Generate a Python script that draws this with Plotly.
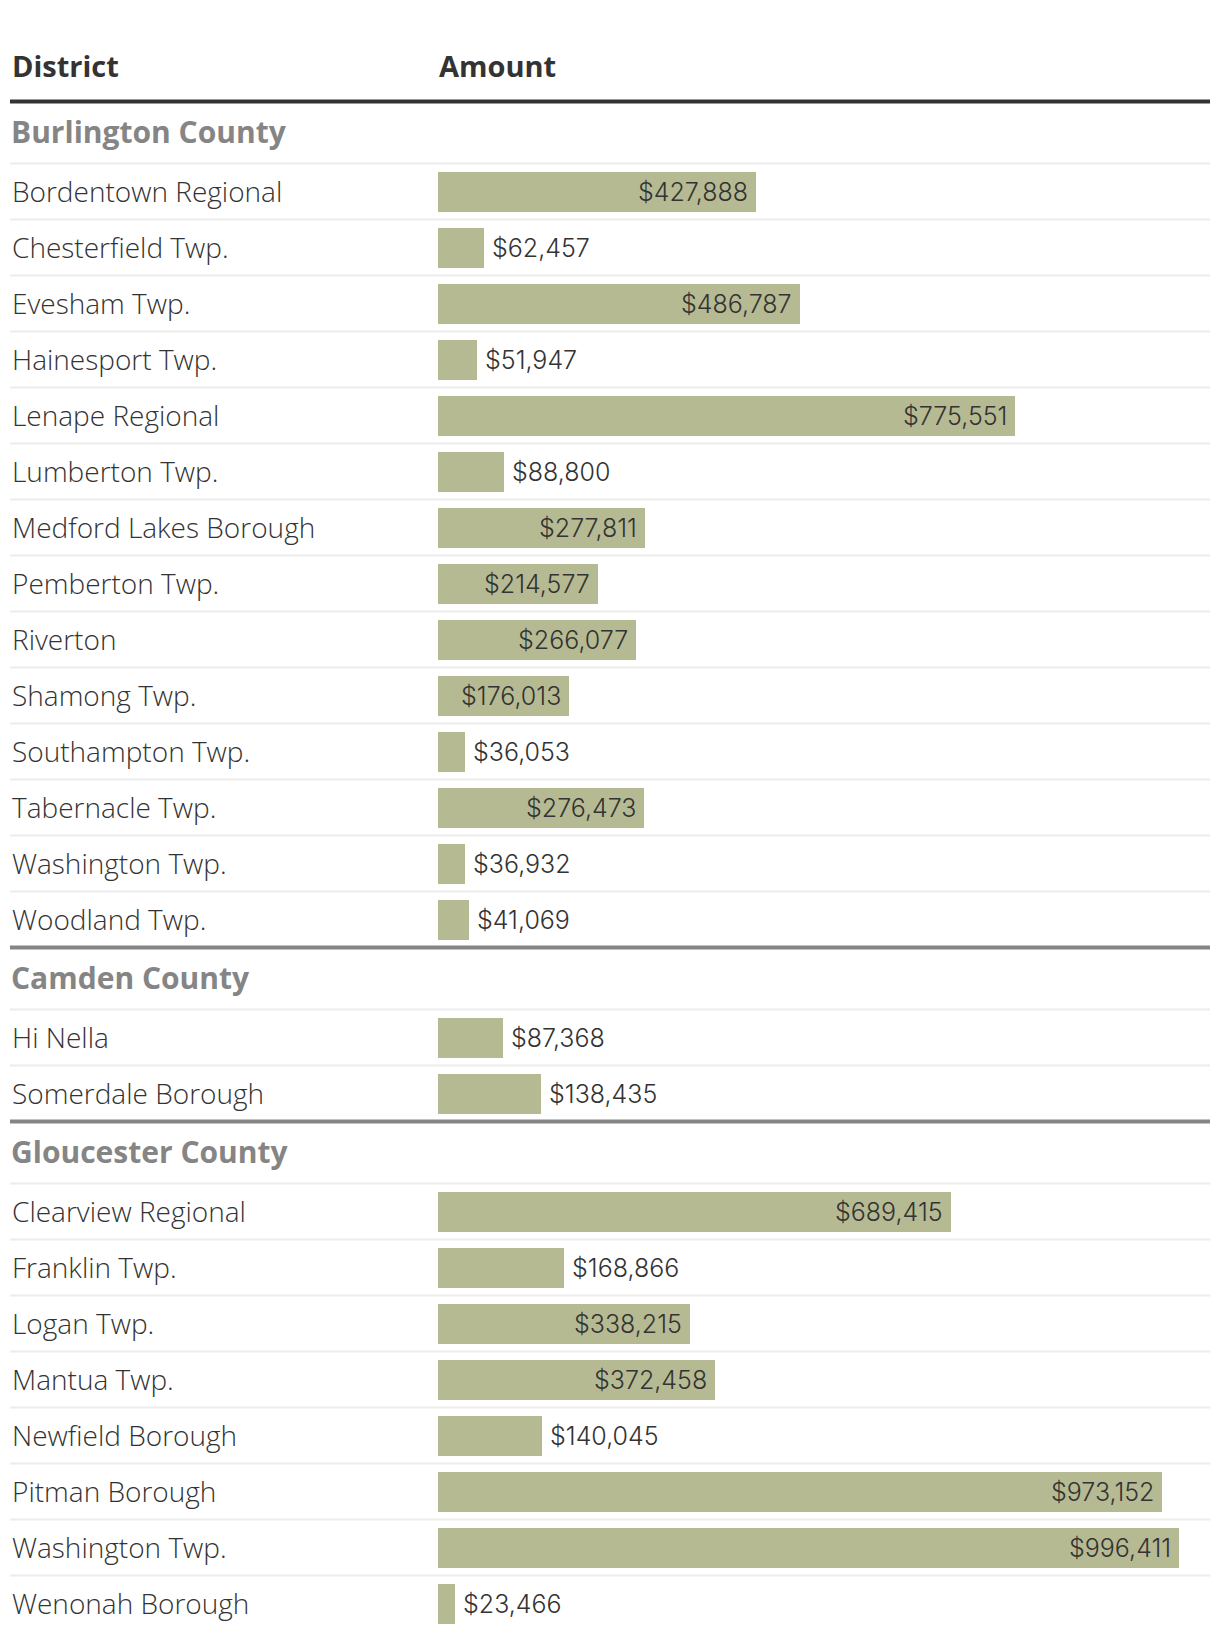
import plotly.graph_objects as go

# ---------------- data ----------------
counties = ["Burlington County", "Camden County", "Gloucester County"]

burlington_districts = [
    "Bordentown Regional", "Chesterfield Twp.", "Evesham Twp.", "Hainesport Twp.",
    "Lenape Regional", "Lumberton Twp.", "Medford Lakes Borough", "Pemberton Twp.",
    "Riverton", "Shamong Twp.", "Southampton Twp.", "Tabernacle Twp.",
    "Washington Twp.", "Woodland Twp.",
]
burlington_amounts = [
    427888, 62457, 486787, 51947, 775551, 88800, 277811, 214577,
    266077, 176013, 36053, 276473, 36932, 41069,
]

camden_districts = ["Hi Nella", "Somerdale Borough"]
camden_amounts = [87368, 138435]

gloucester_districts = [
    "Clearview Regional", "Franklin Twp.", "Logan Twp.", "Mantua Twp.",
    "Newfield Borough", "Pitman Borough", "Washington Twp.", "Wenonah Borough",
]
gloucester_amounts = [689415, 168866, 338215, 372458, 140045, 973152, 996411, 23466]

column_headers = ["District", "Amount"]

# ---------------- layout constants (page pixels) ----------------
PAGE_OFF = 8                      # default body margin of the html page
W, H = 1220 - PAGE_OFF, 1640 - PAGE_OFF
LEFT, RIGHT = 10 - PAGE_OFF, 1210 - PAGE_OFF
BAR_X0 = 438 - PAGE_OFF
X_MAX = 1038000                   # value reaching the right edge of the table
HEADER_Y = 65.5 - PAGE_OFF
HEADER_LINE_Y = 101.5 - PAGE_OFF
GROUP_H = 62
ROW_H = 56
BAR_W = 40
INSIDE_MIN = 170000

BAR_COLOR = "#b5ba92"
TEXT_DARK = "#333333"
COUNTY_GREY = "#858585"
SEP_LIGHT = "#ececec"

NAME_FONT = dict(family="Open Sans", size=28, color=TEXT_DARK, weight=300)
VALUE_FONT = dict(family="Inter", size=25, color=TEXT_DARK, weight=300)
HEAD_FONT = dict(family="Open Sans", size=29, color=TEXT_DARK, weight=700)
COUNTY_FONT = dict(family="Open Sans", size=30, color=COUNTY_GREY, weight=700)

groups = [
    (counties[0], burlington_districts, burlington_amounts),
    (counties[1], camden_districts, camden_amounts),
    (counties[2], gloucester_districts, gloucester_amounts),
]

px = lambda v: v / W

shapes = []
annotations = []
bar_y, bar_x = [], []

# header
shapes.append(dict(type="line", xref="paper", yref="y", x0=px(LEFT), x1=px(RIGHT),
                   y0=HEADER_LINE_Y, y1=HEADER_LINE_Y, line=dict(color=TEXT_DARK, width=4)))
annotations.append(dict(text=column_headers[0], xref="paper", yref="y", x=px(LEFT), y=HEADER_Y,
                        xanchor="left", yanchor="middle", showarrow=False, font=HEAD_FONT))
annotations.append(dict(text=column_headers[1], xref="paper", yref="y", x=px(BAR_X0 - 1), y=HEADER_Y,
                        xanchor="left", yanchor="middle", showarrow=False, font=HEAD_FONT))

cursor = HEADER_LINE_Y
for gi, (county, names, amounts) in enumerate(groups):
    if gi > 0:
        shapes.append(dict(type="line", xref="paper", yref="y", x0=px(LEFT), x1=px(RIGHT),
                           y0=cursor, y1=cursor, line=dict(color=COUNTY_GREY, width=4)))
    annotations.append(dict(text=county, xref="paper", yref="y", x=px(LEFT - 1),
                            y=cursor + GROUP_H / 2 - 1.5, xanchor="left", yanchor="middle",
                            showarrow=False, font=COUNTY_FONT))
    cursor += GROUP_H
    for name, amt in zip(names, amounts):
        shapes.append(dict(type="line", xref="paper", yref="y", x0=px(LEFT), x1=px(RIGHT),
                           y0=cursor, y1=cursor, line=dict(color=SEP_LIGHT, width=2)))
        center = cursor + ROW_H / 2
        bar_y.append(center)
        bar_x.append(amt)
        annotations.append(dict(text=name, xref="paper", yref="y", x=px(LEFT), y=center - 1,
                                xanchor="left", yanchor="middle", showarrow=False, font=NAME_FONT))
        inside = amt >= INSIDE_MIN
        annotations.append(dict(text=f"${amt:,}", xref="x", yref="y", x=amt, y=center,
                                xanchor="right" if inside else "left",
                                xshift=-6 if inside else 6, yanchor="middle",
                                showarrow=False, font=VALUE_FONT))
        cursor += ROW_H

fig = go.Figure(go.Bar(
    x=bar_x, y=bar_y, orientation="h", width=BAR_W,
    marker=dict(color=BAR_COLOR, line=dict(width=0)),
    hoverinfo="x",
))

fig.update_layout(
    width=W, height=H,
    margin=dict(l=0, r=0, t=0, b=0),
    paper_bgcolor="white", plot_bgcolor="white",
    showlegend=False,
    xaxis=dict(domain=[BAR_X0 / W, 1.0], range=[0, X_MAX * (W - BAR_X0) / (RIGHT - BAR_X0)],
               visible=False, fixedrange=True),
    yaxis=dict(range=[H, 0], domain=[0, 1], visible=False, fixedrange=True),
    shapes=shapes,
    annotations=annotations,
    bargap=0,
)

fig.write_html("out.html")
